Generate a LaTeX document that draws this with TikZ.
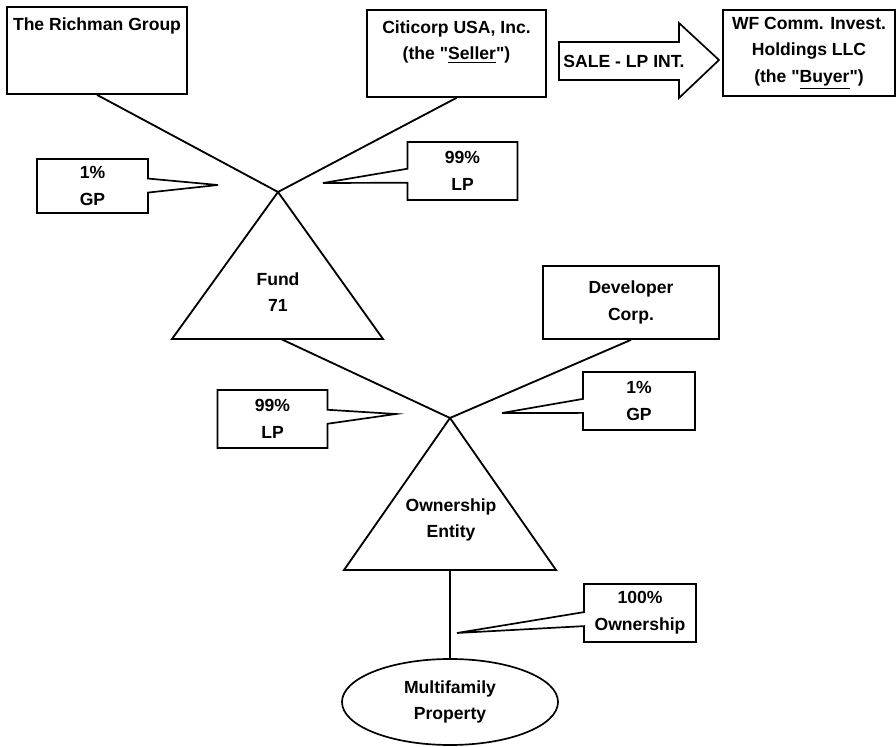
\documentclass[tikz,border=0pt]{standalone}
\usepackage{fontspec}
\setmainfont{Liberation Sans}
\usetikzlibrary{shapes.geometric,shapes.callouts}

\tikzset{
  firma/.style={draw, line width=1.2pt, align=center, inner sep=2pt},
  anteil/.style={rectangle callout, draw, line width=1.2pt, align=center,
    callout pointer width=0.35cm, minimum width=2.75cm, minimum height=1.45cm},
  linie/.style={line width=1.3pt}
}

\begin{document}
\begin{tikzpicture}[x=0.025cm, y=-0.025cm, line join=miter,
  font=\bfseries\fontsize{12.5}{19}\selectfont]
\useasboundingbox (0,0) rectangle (896,747);

% Gesellschafter oben
\node[firma, minimum width=4.5cm, minimum height=2.175cm] (richman) at (97,50.5) {The Richman Group\\~\\~};
\node[firma, minimum width=4.475cm, minimum height=2.175cm] (citi) at (456.5,53.5) {Citicorp USA, Inc.\\(the \textquotedbl\underline{Seller}\textquotedbl)\\~};
\node[firma, minimum width=4.3cm, minimum height=2.15cm] (buyer) at (809,53) {WF Comm. Invest.\\Holdings LLC\\(the \textquotedbl\underline{Buyer}\textquotedbl)};

% Verkaufspfeil
\draw[line width=1.2pt] (559,42) -- (679,42) -- (679,23) -- (719,60) -- (679,98) -- (679,80) -- (559,80) -- cycle;
\node (sale) at (624,61) {SALE - LP INT.};

% Fonds
\coordinate (fundtop) at (278,192);
\coordinate (fundbase) at (281,339);
\draw[linie] (fundtop) -- (172,339) -- (383,339) -- cycle;
\node[align=center] (fund) at (278,292) {Fund\\71};

\draw[linie] (richman.south) -- (fundtop);
\draw[linie] (citi.south) -- (fundtop);

% Objektgesellschaft
\node[firma, minimum width=4.4cm, minimum height=1.825cm] (developer) at (631,302.5) {Developer\\Corp.};
\coordinate (ownertop) at (450,418);
\coordinate (ownerbase) at (450,570);
\draw[linie] (ownertop) -- (344,570) -- (556,570) -- cycle;
\node[align=center] (owner) at (451,520) {Ownership\\Entity};

\draw[linie] (fundbase) -- (ownertop);
\draw[linie] (developer.south) -- (ownertop);

% Immobilie
\node[ellipse, draw, line width=1.2pt, align=center, minimum width=5.4cm, minimum height=2.15cm] (property) at (450,702) {Multifamily\\Property};
\draw[line width=0.8pt] (ownerbase) -- (property.north);

% Beteiligungen
\node[anteil, minimum width=2.775cm, minimum height=1.35cm, callout absolute pointer={(218,185)}] (gp1) at (92.5,186) {1\%\\GP};
\node[anteil, callout absolute pointer={(323,183)}] (lp1) at (462.5,171) {99\%\\LP};
\node[anteil, callout absolute pointer={(396,414)}] (lp2) at (272.5,419) {99\%\\LP};
\node[anteil, minimum width=2.8cm, callout absolute pointer={(502,413)}] (gp2) at (639,401) {1\%\\GP};
\node[anteil, minimum width=2.8cm, callout absolute pointer={(457,633)}] (own) at (640,613) {100\%\\Ownership};

\end{tikzpicture}
\end{document}
